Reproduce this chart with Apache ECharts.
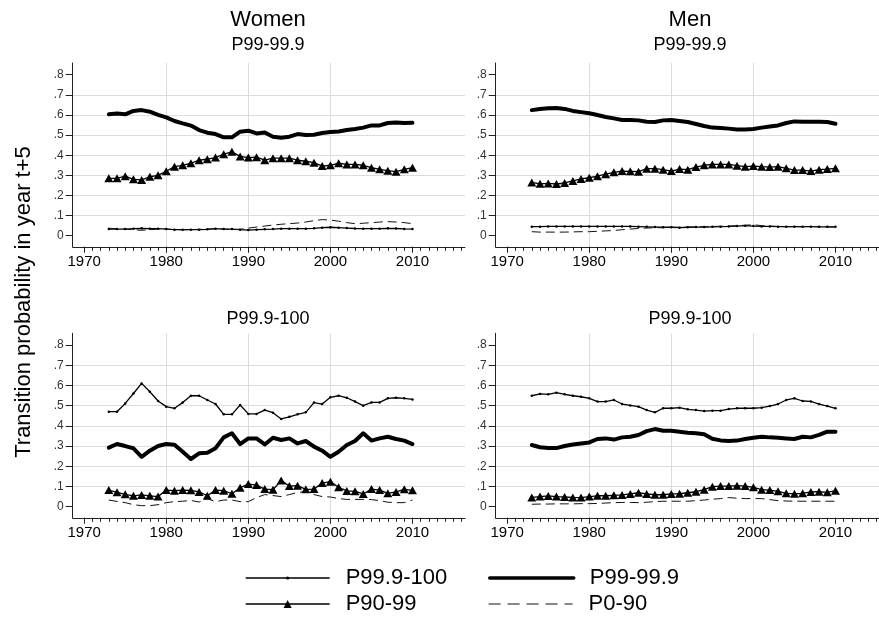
<!DOCTYPE html>
<html>
<head>
<meta charset="utf-8">
<script src="https://cdn.jsdelivr.net/npm/echarts@6/dist/echarts.min.js"></script>
<style>
  html, body { margin: 0; padding: 0; background: #fff; }
  #chart { width: 879px; height: 626px; }
</style>
</head>
<body>
<div id="chart"></div>
<script>
// Years observed (transition measured to year t+5)
const years = [1973, 1974, 1975, 1976, 1977, 1978, 1979, 1980, 1981, 1982,
               1983, 1984, 1985, 1986, 1987, 1988, 1989, 1990, 1991, 1992,
               1993, 1994, 1995, 1996, 1997, 1998, 1999, 2000, 2001, 2002,
               2003, 2004, 2005, 2006, 2007, 2008, 2009, 2010];

// Axis tick values
const decadeTicks = [1970, 1980, 1990, 2000, 2010];
const yearTicks = [1970, 1971, 1972, 1973, 1974, 1975, 1976, 1977, 1978, 1979,
                   1980, 1981, 1982, 1983, 1984, 1985, 1986, 1987, 1988, 1989,
                   1990, 1991, 1992, 1993, 1994, 1995, 1996, 1997, 1998, 1999,
                   2000, 2001, 2002, 2003, 2004, 2005, 2006, 2007, 2008, 2009,
                   2010, 2011, 2012, 2013, 2014, 2015, 2016];
const probTicks = [0, 0.1, 0.2, 0.3, 0.4, 0.5, 0.6, 0.7, 0.8];

// Series names (destination groups)
const groupNames = ['P99.9-100', 'P99-99.9', 'P90-99', 'P0-90'];

// Women, starting in P99-99.9
const womenP99_to_top01 = [.033,.033,.033,.035,.037,.035,.035,.033,.030,.030,.030,.030,.032,.035,.033,.033,.030,.028,.030,.032,.033,.035,.035,.035,.035,.037,.040,.042,.040,.038,.036,.035,.035,.035,.037,.036,.034,.033];
const womenP99_to_p99 = [.603,.607,.603,.620,.624,.616,.600,.588,.570,.558,.547,.525,.512,.505,.489,.489,.517,.522,.508,.513,.492,.487,.492,.505,.500,.502,.510,.515,.518,.525,.530,.537,.548,.548,.560,.563,.560,.561];
const womenP99_to_p90 = [.285,.285,.296,.280,.277,.293,.300,.320,.343,.350,.360,.375,.380,.388,.405,.417,.394,.388,.390,.375,.385,.385,.385,.375,.370,.363,.346,.350,.360,.354,.354,.350,.338,.330,.323,.318,.330,.338];
const womenP99_to_p0 = [.037,.035,.032,.030,.027,.030,.033,.033,.030,.030,.030,.032,.033,.035,.033,.030,.032,.038,.043,.048,.053,.057,.060,.063,.068,.075,.080,.078,.072,.065,.060,.062,.065,.068,.070,.068,.065,.060];

// Men, starting in P99-99.9
const menP99_to_top01 = [.045,.045,.046,.046,.046,.046,.046,.046,.046,.046,.046,.046,.046,.045,.044,.043,.042,.042,.040,.042,.043,.043,.044,.045,.046,.048,.050,.048,.046,.046,.045,.045,.045,.045,.045,.044,.044,.044];
const menP99_to_p99 = [.624,.630,.633,.634,.630,.620,.614,.608,.600,.590,.583,.575,.575,.573,.566,.565,.573,.575,.570,.565,.555,.545,.537,.535,.532,.528,.528,.530,.537,.543,.548,.560,.568,.566,.566,.566,.565,.556];
const menP99_to_p90 = [.265,.258,.260,.257,.262,.272,.282,.288,.296,.306,.315,.321,.320,.318,.333,.333,.328,.321,.331,.328,.341,.350,.354,.354,.354,.348,.343,.346,.343,.341,.343,.335,.326,.326,.321,.328,.331,.335];
const menP99_to_p0 = [.020,.018,.018,.018,.018,.019,.020,.020,.022,.024,.026,.030,.033,.036,.038,.040,.040,.042,.042,.043,.044,.045,.046,.047,.048,.050,.052,.055,.050,.048,.046,.045,.045,.045,.046,.045,.044,.043];

// Women, starting in P99.9-100
const womenTop_to_top01 = [.470,.470,.511,.560,.610,.569,.523,.495,.487,.515,.549,.549,.528,.508,.457,.457,.503,.459,.459,.478,.465,.434,.445,.457,.467,.515,.508,.541,.549,.539,.520,.500,.516,.516,.536,.539,.536,.531];
const womenTop_to_p99 = [.292,.310,.300,.289,.247,.277,.300,.310,.307,.272,.236,.264,.267,.289,.343,.363,.310,.338,.338,.308,.341,.330,.338,.313,.325,.297,.277,.247,.272,.305,.325,.363,.327,.338,.346,.335,.327,.310];
const womenTop_to_p90 = [.082,.071,.061,.054,.058,.054,.050,.082,.079,.082,.081,.073,.054,.082,.079,.064,.094,.112,.107,.087,.084,.129,.102,.104,.086,.087,.117,.124,.096,.078,.076,.063,.087,.082,.066,.073,.086,.081];
const womenTop_to_p0 = [.033,.026,.020,.010,.005,.005,.010,.020,.025,.027,.031,.023,.040,.025,.033,.033,.025,.025,.045,.060,.055,.050,.060,.070,.075,.060,.050,.048,.040,.036,.036,.036,.035,.030,.022,.020,.020,.033];

// Men, starting in P99.9-100
const menTop_to_top01 = [.549,.558,.556,.564,.556,.549,.544,.536,.520,.520,.528,.508,.501,.495,.478,.467,.487,.487,.490,.482,.478,.473,.475,.475,.483,.487,.487,.487,.490,.498,.508,.528,.536,.523,.521,.508,.498,.487];
const menTop_to_p99 = [.305,.294,.290,.290,.300,.308,.313,.318,.335,.338,.332,.343,.346,.355,.374,.384,.376,.376,.371,.366,.363,.358,.336,.328,.325,.327,.335,.341,.346,.343,.341,.338,.335,.346,.343,.355,.371,.371];
const menTop_to_p90 = [.046,.050,.053,.050,.048,.046,.045,.050,.054,.054,.056,.058,.063,.069,.063,.059,.059,.063,.064,.069,.074,.084,.099,.102,.102,.104,.102,.096,.084,.082,.076,.066,.064,.066,.073,.074,.071,.079];
const menTop_to_p0 = [.012,.013,.013,.014,.014,.014,.015,.015,.016,.018,.020,.021,.021,.020,.022,.025,.027,.027,.027,.027,.030,.033,.037,.040,.045,.042,.040,.040,.040,.035,.030,.028,.027,.027,.027,.027,.027,.027];

// Panel order: top-left, top-right, bottom-left, bottom-right
const panelSeries = [
  [womenP99_to_top01, womenP99_to_p99, womenP99_to_p90, womenP99_to_p0],
  [menP99_to_top01, menP99_to_p99, menP99_to_p90, menP99_to_p0],
  [womenTop_to_top01, womenTop_to_p99, womenTop_to_p90, womenTop_to_p0],
  [menTop_to_top01, menTop_to_p99, menTop_to_p90, menTop_to_p0]
];

const FONT = '"Liberation Sans", Arial, Helvetica, sans-serif';

const gridBoxes = [
  { left: 72.7, top: 63, width: 392.3, height: 183.8 },
  { left: 495.7, top: 63, width: 392.3, height: 183.8 },
  { left: 72.7, top: 333.3, width: 392.3, height: 184.5 },
  { left: 495.7, top: 333.3, width: 392.3, height: 184.5 }
];

const X_MIN = 1968.6, X_MAX = 2016.4;
const Y_MIN = -0.055, Y_MAX = 0.858;

// Line looks per destination group
const looks = [
  { lineStyle: { width: 1.3, color: '#000' }, symbol: 'circle', symbolSize: 2.5 },
  { lineStyle: { width: 4, color: '#000', cap: 'round', join: 'round' }, symbol: 'none' },
  { lineStyle: { width: 1.3, color: '#000' }, symbol: 'triangle', symbolSize: [9, 8] },
  { lineStyle: { width: 1, color: '#111', type: [9, 5] }, symbol: 'none' }
];

const grids = gridBoxes.map(b => Object.assign({ containLabel: false, outerBoundsMode: 'none' }, b));

const gridLineStyle = { color: '#dcdcdc', width: 1 };

const xAxes = [];
const yAxes = [];
gridBoxes.forEach((b, i) => {
  // decade axis: labels, long ticks and vertical grid lines
  xAxes.push({
    type: 'value', gridIndex: i, min: X_MIN, max: X_MAX, position: 'bottom',
    axisLine: { show: true, onZero: false, lineStyle: { color: '#222', width: 1 } },
    axisTick: { show: true, customValues: decadeTicks, length: 6, lineStyle: { color: '#222' } },
    axisLabel: { show: true, customValues: decadeTicks, margin: 8, color: '#000', fontSize: 15, fontFamily: FONT,
                 formatter: v => String(v) },
    splitLine: { show: true, showMinLine: false, showMaxLine: false, lineStyle: gridLineStyle }
  });
  // yearly minor ticks
  xAxes.push({
    type: 'value', gridIndex: i, min: X_MIN, max: X_MAX, position: 'bottom',
    axisLine: { show: false, onZero: false },
    axisTick: { show: true, customValues: yearTicks, length: 4, lineStyle: { color: '#222' } },
    axisLabel: { show: false },
    splitLine: { show: false }
  });
  yAxes.push({
    type: 'value', gridIndex: i, min: Y_MIN, max: Y_MAX,
    axisLine: { show: true, onZero: false, lineStyle: { color: '#222', width: 1 } },
    axisTick: { show: true, customValues: probTicks, length: 7, lineStyle: { color: '#222' } },
    axisLabel: { show: true, customValues: probTicks, margin: 9, color: '#333', fontSize: 12, fontFamily: FONT,
                 formatter: v => v === 0 ? '0' : v.toFixed(1).replace(/^0/, '') },
    splitLine: { show: true, showMinLine: false, showMaxLine: false, lineStyle: gridLineStyle }
  });
});

const series = [];
panelSeries.forEach((group, p) => {
  group.forEach((vals, k) => {
    const look = looks[k];
    series.push({
      type: 'line',
      name: groupNames[k],
      xAxisIndex: p * 2,
      yAxisIndex: p,
      data: years.map((yr, j) => [yr, vals[j]]),
      symbol: look.symbol,
      symbolSize: look.symbolSize,
      itemStyle: { color: '#000' },
      lineStyle: look.lineStyle,
      silent: true,
      animation: false,
      z: 3 + k
    });
  });
});

// Legend: one block per entry so each keeps its own key size
function legendBlock(name, left, top, itemHeight, lineStyle, hideSymbol) {
  return {
    data: [name], left: left, top: top, padding: 0, orient: 'horizontal',
    itemWidth: 84, itemHeight: itemHeight, selectedMode: false,
    itemStyle: hideSymbol ? { opacity: 0 } : { color: '#000' },
    lineStyle: lineStyle,
    textStyle: { fontSize: 22, color: '#000', fontFamily: FONT, padding: [0, 0, 0, 11] }
  };
}
const legends = [
  legendBlock('P99.9-100', 245, 567, 4, { width: 1.3, color: '#000' }, false),
  legendBlock('P99-99.9', 488, 567, 4, { width: 3.5, color: '#000' }, true),
  legendBlock('P90-99', 245, 593, 10, { width: 1.3, color: '#000' }, false),
  legendBlock('P0-90', 488, 593, 4, { width: 1.2, color: '#111', type: [12, 7] }, true)
];

function label(x, y, text, size, rot) {
  return {
    type: 'text', x: x, y: y, rotation: rot || 0, silent: true,
    style: { text: text, font: size + 'px ' + FONT, fill: '#000',
             align: 'center', verticalAlign: 'middle', textAlign: 'center', textVerticalAlign: 'middle' }
  };
}

const chart = echarts.init(document.getElementById('chart'), null, { renderer: 'canvas' });
chart.setOption({
  backgroundColor: '#fff',
  animation: false,
  grid: grids,
  xAxis: xAxes,
  yAxis: yAxes,
  series: series,
  legend: legends,
  graphic: [
    label(268, 20, 'Women', 22),
    label(690, 20, 'Men', 22),
    label(268, 45, 'P99-99.9', 18),
    label(690, 45, 'P99-99.9', 18),
    label(268, 319, 'P99.9-100', 18),
    label(690, 319, 'P99.9-100', 18),
    label(24, 302, 'Transition probability in year t+5', 22, Math.PI / 2)
  ]
});
</script>
</body>
</html>
